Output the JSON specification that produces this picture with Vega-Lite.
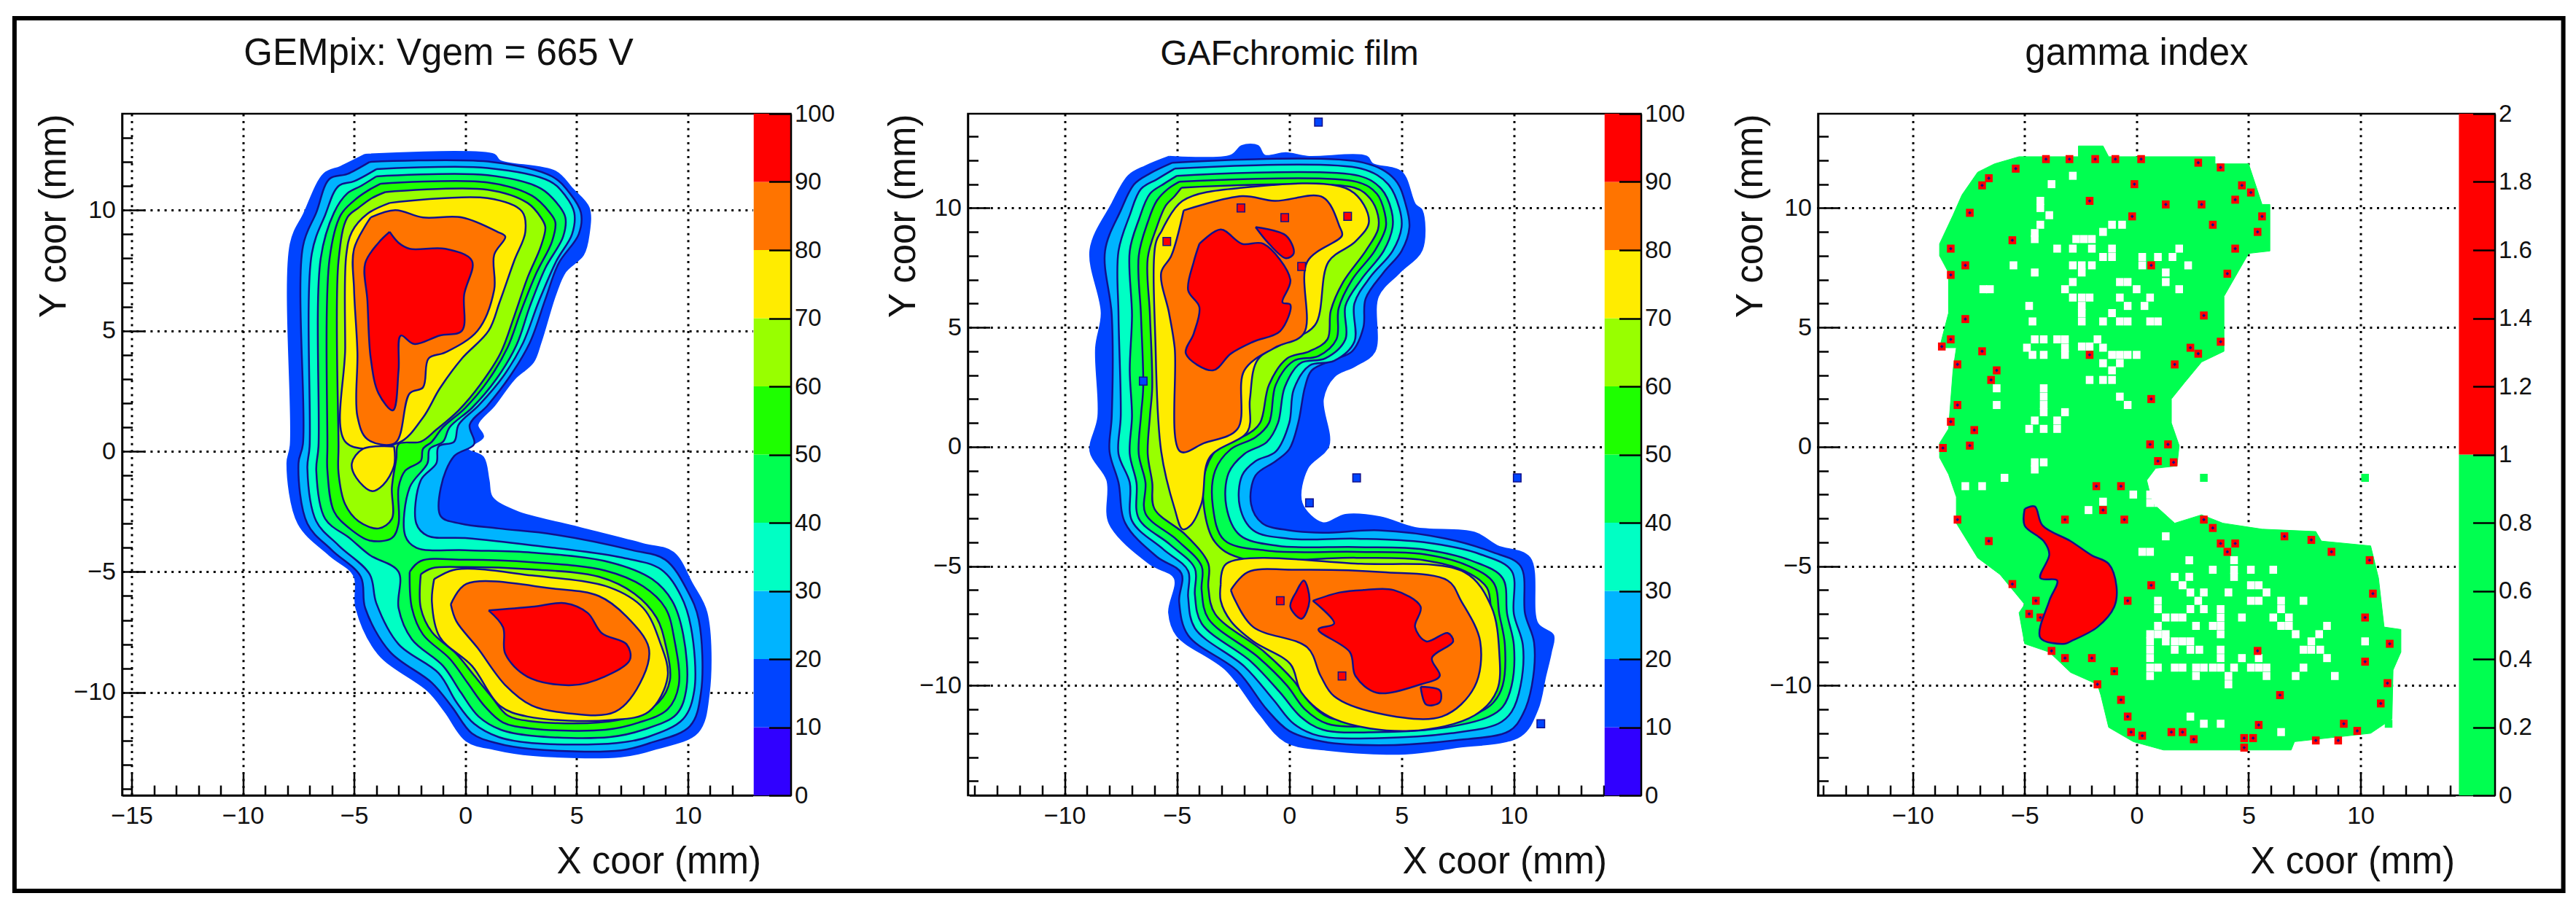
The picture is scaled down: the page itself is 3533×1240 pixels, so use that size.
{"$schema":"https://vega.github.io/schema/vega-lite/v6.json","background":"white","padding":{"left":15.5,"top":20,"right":16,"bottom":17},"bounds":"flush","spacing":243,
"config":{"font":"Liberation Sans","view":{"stroke":"black","strokeWidth":2.5},"axis":{"labelFont":"Liberation Sans","titleFont":"Liberation Sans","labelColor":"#111","titleColor":"#111","titleFontWeight":"normal","labelFontSize":34,"titleFontSize":51,"domainColor":"black","domainWidth":2.5,"tickColor":"black","tickWidth":2.5,"gridColor":"black","gridOpacity":1,"gridWidth":3,"gridDash":[3,6.6],"labelBound":false,"labelFlush":false,"labelOverlap":false}},
"datasets":{
"frame":[{"x":-20.27,"x2":94.34,"y":17.96,"y2":-18.23}],
"bar":[{"b":0,"b2":10},{"b":10,"b2":20},{"b":20,"b2":30},{"b":30,"b2":40},{"b":40,"b2":50},{"b":50,"b2":60},{"b":60,"b2":70},{"b":70,"b2":80},{"b":80,"b2":90},{"b":90,"b2":100}],
"bar3":[{"b":0,"b2":1},{"b":1,"b2":2}],
"one":[{"x":0,"y":0}],
"p1":[
{"k":10,"x":-4.5,"y":12.3},{"k":10,"x":1.3,"y":12.3},{"k":10,"x":1.55,"y":12.05},{"k":10,"x":4.05,"y":11.6},{"k":10,"x":4.8,"y":10.9},{"k":10,"x":5.55,"y":10.1},{"k":10,"x":5.55,"y":9},{"k":10,"x":5.3,"y":8.15},{"k":10,"x":4.5,"y":7.45},{"k":10,"x":4.05,"y":6.5},{"k":10,"x":3.4,"y":4.55},{"k":10,"x":3.05,"y":3.7},{"k":10,"x":2.2,"y":3},{"k":10,"x":1.3,"y":1.9},{"k":10,"x":0.55,"y":1.1},{"k":10,"x":0.8,"y":0.6},{"k":10,"x":0.1,"y":0.1},{"k":10,"x":0.8,"y":-0.25},{"k":10,"x":1.05,"y":-1.2},{"k":10,"x":1.2,"y":-1.9},{"k":10,"x":2.3,"y":-2.5},{"k":10,"x":4.8,"y":-3.1},{"k":10,"x":8,"y":-3.85},{"k":10,"x":9.35,"y":-4.2},{"k":10,"x":10.2,"y":-5.5},{"k":10,"x":10.85,"y":-6.7},{"k":10,"x":10.95,"y":-10.05},{"k":10,"x":10.45,"y":-11.65},{"k":10,"x":8.5,"y":-12.35},{"k":10,"x":7,"y":-12.65},{"k":10,"x":3.05,"y":-12.6},{"k":10,"x":1.3,"y":-12.35},{"k":10,"x":0.05,"y":-12},{"k":10,"x":-0.9,"y":-10.8},{"k":10,"x":-1.65,"y":-9.95},{"k":10,"x":-3.9,"y":-8.4},{"k":10,"x":-4.9,"y":-6.5},{"k":10,"x":-5,"y":-5.15},{"k":10,"x":-6.1,"y":-4.3},{"k":10,"x":-7.5,"y":-3},{"k":10,"x":-8,"y":-0.5},{"k":10,"x":-7.85,"y":0.25},{"k":10,"x":-7.85,"y":8.6},{"k":10,"x":-7.25,"y":9.85},{"k":10,"x":-6.35,"y":11.5},{"k":10,"x":-5.6,"y":11.8},{"k":10,"x":-4.5,"y":12.3},
{"k":20,"x":-4.3,"y":12},{"k":20,"x":1.2,"y":12},{"k":20,"x":3.9,"y":11.4},{"k":20,"x":4.7,"y":10.7},{"k":20,"x":5.2,"y":9.9},{"k":20,"x":5.1,"y":9},{"k":20,"x":4.2,"y":7.8},{"k":20,"x":3.6,"y":6.3},{"k":20,"x":2.9,"y":4.5},{"k":20,"x":2,"y":3.1},{"k":20,"x":1,"y":1.9},{"k":20,"x":0.2,"y":1.1},{"k":20,"x":0.4,"y":0.3},{"k":20,"x":-0.5,"y":-0.2},{"k":20,"x":-1.1,"y":-1.5},{"k":20,"x":-1.1,"y":-2.7},{"k":20,"x":-0.2,"y":-3},{"k":20,"x":1.5,"y":-3.2},{"k":20,"x":4,"y":-3.45},{"k":20,"x":7.5,"y":-4.1},{"k":20,"x":9,"y":-4.5},{"k":20,"x":10,"y":-5.8},{"k":20,"x":10.5,"y":-7},{"k":20,"x":10.6,"y":-10},{"k":20,"x":10.1,"y":-11.4},{"k":20,"x":8.3,"y":-12.1},{"k":20,"x":7,"y":-12.4},{"k":20,"x":3,"y":-12.35},{"k":20,"x":1.4,"y":-12.1},{"k":20,"x":0.3,"y":-11.7},{"k":20,"x":-0.6,"y":-10.6},{"k":20,"x":-1.5,"y":-9.6},{"k":20,"x":-3.4,"y":-8.3},{"k":20,"x":-4.5,"y":-6.5},{"k":20,"x":-4.7,"y":-5.2},{"k":20,"x":-6,"y":-4.1},{"k":20,"x":-7.1,"y":-3},{"k":20,"x":-7.5,"y":-0.5},{"k":20,"x":-7.3,"y":0.3},{"k":20,"x":-7.3,"y":8.5},{"k":20,"x":-6.7,"y":9.9},{"k":20,"x":-6.1,"y":11.3},{"k":20,"x":-5.3,"y":11.5},{"k":20,"x":-4.3,"y":12},
{"k":30,"x":-4,"y":11.7},{"k":30,"x":1,"y":11.75},{"k":30,"x":3.8,"y":11.2},{"k":30,"x":4.5,"y":10.6},{"k":30,"x":4.9,"y":9.9},{"k":30,"x":4.8,"y":9},{"k":30,"x":4.1,"y":7.9},{"k":30,"x":3.3,"y":6.2},{"k":30,"x":2.6,"y":4.5},{"k":30,"x":1.7,"y":3.1},{"k":30,"x":0.6,"y":1.9},{"k":30,"x":-0.3,"y":1.1},{"k":30,"x":-0.5,"y":0.4},{"k":30,"x":-1.2,"y":0.2},{"k":30,"x":-1.3,"y":-0.5},{"k":30,"x":-2,"y":-1.2},{"k":30,"x":-2.2,"y":-3},{"k":30,"x":-1.7,"y":-3.5},{"k":30,"x":0,"y":-3.6},{"k":30,"x":3,"y":-3.9},{"k":30,"x":7,"y":-4.4},{"k":30,"x":8.8,"y":-4.9},{"k":30,"x":9.7,"y":-6},{"k":30,"x":10.15,"y":-7.3},{"k":30,"x":10.3,"y":-9.9},{"k":30,"x":9.8,"y":-11.1},{"k":30,"x":8.2,"y":-11.85},{"k":30,"x":6.8,"y":-12.1},{"k":30,"x":3,"y":-12.1},{"k":30,"x":1.5,"y":-11.85},{"k":30,"x":0.4,"y":-11.3},{"k":30,"x":-0.4,"y":-10.4},{"k":30,"x":-1.2,"y":-9.2},{"k":30,"x":-3,"y":-8},{"k":30,"x":-4,"y":-6.3},{"k":30,"x":-4.3,"y":-5.1},{"k":30,"x":-5.7,"y":-3.9},{"k":30,"x":-6.7,"y":-2.9},{"k":30,"x":-7.1,"y":-0.7},{"k":30,"x":-7,"y":0.2},{"k":30,"x":-6.9,"y":8.2},{"k":30,"x":-6.3,"y":9.8},{"k":30,"x":-5.7,"y":11},{"k":30,"x":-5,"y":11.2},{"k":30,"x":-4,"y":11.7},
{"k":40,"x":-4,"y":11.4},{"k":40,"x":1,"y":11.45},{"k":40,"x":3.4,"y":10.9},{"k":40,"x":4.2,"y":10.2},{"k":40,"x":4.5,"y":9.7},{"k":40,"x":4.4,"y":8.9},{"k":40,"x":3.6,"y":7.6},{"k":40,"x":2.9,"y":6},{"k":40,"x":2.3,"y":4.4},{"k":40,"x":1.4,"y":3},{"k":40,"x":0.3,"y":1.8},{"k":40,"x":-0.7,"y":1},{"k":40,"x":-1,"y":0.4},{"k":40,"x":-1.6,"y":0.1},{"k":40,"x":-1.7,"y":-0.5},{"k":40,"x":-2.5,"y":-1.5},{"k":40,"x":-2.7,"y":-3.5},{"k":40,"x":-2.2,"y":-4},{"k":40,"x":0,"y":-4.1},{"k":40,"x":3,"y":-4.2},{"k":40,"x":6.5,"y":-4.6},{"k":40,"x":8.4,"y":-5.3},{"k":40,"x":9.3,"y":-6.2},{"k":40,"x":9.8,"y":-7.6},{"k":40,"x":9.95,"y":-9.8},{"k":40,"x":9.5,"y":-10.9},{"k":40,"x":8,"y":-11.55},{"k":40,"x":6.5,"y":-11.85},{"k":40,"x":3,"y":-11.8},{"k":40,"x":1.6,"y":-11.55},{"k":40,"x":0.6,"y":-11},{"k":40,"x":-0.2,"y":-10},{"k":40,"x":-1,"y":-8.9},{"k":40,"x":-2.4,"y":-7.8},{"k":40,"x":-3,"y":-6.5},{"k":40,"x":-3,"y":-5},{"k":40,"x":-4.3,"y":-4.3},{"k":40,"x":-5.2,"y":-3.6},{"k":40,"x":-6.3,"y":-2.8},{"k":40,"x":-6.7,"y":-0.8},{"k":40,"x":-6.6,"y":0.2},{"k":40,"x":-6.5,"y":8},{"k":40,"x":-5.9,"y":9.9},{"k":40,"x":-5.3,"y":10.7},{"k":40,"x":-4.7,"y":11},{"k":40,"x":-4,"y":11.4},
{"k":50,"x":-3.8,"y":11.1},{"k":50,"x":1,"y":11.15},{"k":50,"x":3,"y":10.6},{"k":50,"x":3.8,"y":9.9},{"k":50,"x":4.05,"y":9.5},{"k":50,"x":3.9,"y":8.7},{"k":50,"x":3.2,"y":7.4},{"k":50,"x":2.5,"y":5.8},{"k":50,"x":1.9,"y":4.3},{"k":50,"x":1,"y":2.9},{"k":50,"x":0,"y":1.8},{"k":50,"x":-1,"y":1},{"k":50,"x":-1.5,"y":0.4},{"k":50,"x":-1.9,"y":0.1},{"k":50,"x":-2,"y":-0.4},{"k":50,"x":-2.7,"y":-0.8},{"k":50,"x":-3,"y":-1.5},{"k":50,"x":-3,"y":-3},{"k":50,"x":-3.3,"y":-3.6},{"k":50,"x":-4.3,"y":-3.7},{"k":50,"x":-5.2,"y":-3.2},{"k":50,"x":-5.9,"y":-2.5},{"k":50,"x":-6.2,"y":-0.8},{"k":50,"x":-6.2,"y":0.2},{"k":50,"x":-6.1,"y":8},{"k":50,"x":-5.6,"y":9.8},{"k":50,"x":-5,"y":10.4},{"k":50,"x":-4.4,"y":10.8},{"k":50,"x":-3.8,"y":11.1},
{"k":51,"x":-2.5,"y":-5},{"k":51,"x":-2,"y":-4.55},{"k":51,"x":0,"y":-4.5},{"k":51,"x":3,"y":-4.6},{"k":51,"x":6.3,"y":-4.95},{"k":51,"x":8,"y":-5.6},{"k":51,"x":9,"y":-6.5},{"k":51,"x":9.4,"y":-7.8},{"k":51,"x":9.6,"y":-9.7},{"k":51,"x":9.1,"y":-10.7},{"k":51,"x":7.8,"y":-11.25},{"k":51,"x":6.3,"y":-11.55},{"k":51,"x":3,"y":-11.5},{"k":51,"x":1.7,"y":-11.25},{"k":51,"x":0.9,"y":-10.6},{"k":51,"x":0.1,"y":-9.6},{"k":51,"x":-0.7,"y":-8.6},{"k":51,"x":-1.9,"y":-7.6},{"k":51,"x":-2.4,"y":-6.5},{"k":51,"x":-2.5,"y":-5},
{"k":60,"x":-3.6,"y":10.75},{"k":60,"x":1,"y":10.85},{"k":60,"x":2.8,"y":10.3},{"k":60,"x":3.4,"y":9.7},{"k":60,"x":3.6,"y":9.3},{"k":60,"x":3.4,"y":8.5},{"k":60,"x":2.8,"y":7.2},{"k":60,"x":2.2,"y":5.6},{"k":60,"x":1.6,"y":4.1},{"k":60,"x":0.7,"y":2.8},{"k":60,"x":-0.3,"y":1.7},{"k":60,"x":-1.3,"y":0.9},{"k":60,"x":-2,"y":0.4},{"k":60,"x":-3,"y":0.3},{"k":60,"x":-3.1,"y":-0.3},{"k":60,"x":-3.3,"y":-1.5},{"k":60,"x":-3.3,"y":-2.8},{"k":60,"x":-3.9,"y":-3.2},{"k":60,"x":-4.8,"y":-2.9},{"k":60,"x":-5.4,"y":-2.2},{"k":60,"x":-5.7,"y":-0.9},{"k":60,"x":-5.7,"y":0.2},{"k":60,"x":-5.7,"y":7.9},{"k":60,"x":-5.3,"y":9.7},{"k":60,"x":-4.8,"y":10.1},{"k":60,"x":-4.2,"y":10.5},{"k":60,"x":-3.6,"y":10.75},
{"k":61,"x":-2,"y":-5.1},{"k":61,"x":-1.5,"y":-4.85},{"k":61,"x":0,"y":-4.8},{"k":61,"x":3,"y":-4.9},{"k":61,"x":6,"y":-5.2},{"k":61,"x":7.6,"y":-5.9},{"k":61,"x":8.6,"y":-6.9},{"k":61,"x":9,"y":-8},{"k":61,"x":9.2,"y":-9.5},{"k":61,"x":8.7,"y":-10.4},{"k":61,"x":7.5,"y":-11},{"k":61,"x":6,"y":-11.25},{"k":61,"x":3,"y":-11.2},{"k":61,"x":1.9,"y":-10.95},{"k":61,"x":1.2,"y":-10.2},{"k":61,"x":0.4,"y":-9.3},{"k":61,"x":-0.4,"y":-8.4},{"k":61,"x":-1.5,"y":-7.5},{"k":61,"x":-2,"y":-6.5},{"k":61,"x":-2,"y":-5.1},
{"k":70,"x":-3.4,"y":10.3},{"k":70,"x":1,"y":10.5},{"k":70,"x":2.55,"y":9.95},{"k":70,"x":2.7,"y":9.1},{"k":70,"x":2.2,"y":7.9},{"k":70,"x":1.55,"y":6.2},{"k":70,"x":1.05,"y":5},{"k":70,"x":-0.15,"y":3.85},{"k":70,"x":-1.15,"y":2.6},{"k":70,"x":-1.9,"y":1.4},{"k":70,"x":-3,"y":0.35},{"k":70,"x":-5.35,"y":0.35},{"k":70,"x":-5.4,"y":4.3},{"k":70,"x":-5.35,"y":8.15},{"k":70,"x":-5.1,"y":9.1},{"k":70,"x":-4.4,"y":9.85},{"k":70,"x":-3.4,"y":10.3},
{"k":71,"x":-3.2,"y":0.2},{"k":71,"x":-3.2,"y":-0.6},{"k":71,"x":-3.7,"y":-1.4},{"k":71,"x":-4.2,"y":-1.65},{"k":71,"x":-4.9,"y":-1.1},{"k":71,"x":-5.1,"y":-0.5},{"k":71,"x":-4.6,"y":0.1},{"k":71,"x":-3.2,"y":0.2},
{"k":72,"x":-1.4,"y":-5.3},{"k":72,"x":-0.4,"y":-4.9},{"k":72,"x":3,"y":-5.15},{"k":72,"x":6.5,"y":-5.65},{"k":72,"x":8,"y":-6.5},{"k":72,"x":8.75,"y":-7.9},{"k":72,"x":9.1,"y":-9.35},{"k":72,"x":8.25,"y":-10.8},{"k":72,"x":6.5,"y":-11.15},{"k":72,"x":2.8,"y":-11},{"k":72,"x":1.55,"y":-10.55},{"k":72,"x":0.3,"y":-8.9},{"k":72,"x":-1.15,"y":-7.7},{"k":72,"x":-1.5,"y":-6.25},{"k":72,"x":-1.4,"y":-5.3},
{"k":80,"x":-4.25,"y":9.7},{"k":80,"x":-3.15,"y":10},{"k":80,"x":-1.9,"y":9.7},{"k":80,"x":-0.15,"y":9.7},{"k":80,"x":1.45,"y":9.1},{"k":80,"x":1.8,"y":8.9},{"k":80,"x":1.3,"y":8.15},{"k":80,"x":1.3,"y":6.7},{"k":80,"x":0.55,"y":5},{"k":80,"x":-0.9,"y":4.1},{"k":80,"x":-1.65,"y":3.85},{"k":80,"x":-1.9,"y":2.65},{"k":80,"x":-2.5,"y":2.4},{"k":80,"x":-3.15,"y":0.35},{"k":80,"x":-4.4,"y":0.5},{"k":80,"x":-4.85,"y":1.45},{"k":80,"x":-4.85,"y":4.1},{"k":80,"x":-5,"y":6.7},{"k":80,"x":-5,"y":8.4},{"k":80,"x":-4.25,"y":9.7},
{"k":81,"x":-0.65,"y":-6.35},{"k":81,"x":0.05,"y":-5.5},{"k":81,"x":4,"y":-5.7},{"k":81,"x":6,"y":-6},{"k":81,"x":7.25,"y":-6.85},{"k":81,"x":8.25,"y":-8.15},{"k":81,"x":8,"y":-9.35},{"k":81,"x":6.75,"y":-10.8},{"k":81,"x":4.5,"y":-10.85},{"k":81,"x":3,"y":-10.55},{"k":81,"x":1.8,"y":-9.7},{"k":81,"x":0.55,"y":-8.15},{"k":81,"x":-0.4,"y":-7.05},{"k":81,"x":-0.65,"y":-6.35},
{"k":90,"x":-3.4,"y":9.1},{"k":90,"x":-3,"y":8.65},{"k":90,"x":-2.5,"y":8.4},{"k":90,"x":-0.9,"y":8.4},{"k":90,"x":0.3,"y":7.9},{"k":90,"x":-0.05,"y":6.5},{"k":90,"x":-0.15,"y":5},{"k":90,"x":-1.15,"y":4.8},{"k":90,"x":-2.3,"y":4.45},{"k":90,"x":-2.9,"y":4.8},{"k":90,"x":-3,"y":3.35},{"k":90,"x":-3.25,"y":1.7},{"k":90,"x":-3.9,"y":2.4},{"k":90,"x":-4.25,"y":3.85},{"k":90,"x":-4.4,"y":6.25},{"k":90,"x":-4.5,"y":7.8},{"k":90,"x":-3.9,"y":8.65},{"k":90,"x":-3.4,"y":9.1},
{"k":91,"x":1.05,"y":-6.6},{"k":91,"x":3,"y":-6.45},{"k":91,"x":4.5,"y":-6.3},{"k":91,"x":5.5,"y":-6.7},{"k":91,"x":6.15,"y":-7.55},{"k":91,"x":7.25,"y":-8},{"k":91,"x":7.4,"y":-8.65},{"k":91,"x":6.25,"y":-9.35},{"k":91,"x":4.8,"y":-9.7},{"k":91,"x":2.8,"y":-9.35},{"k":91,"x":1.8,"y":-8.4},{"k":91,"x":1.7,"y":-7.3},{"k":91,"x":1.05,"y":-6.6}
],
"p2":[
{"k":10,"x":-5.35,"y":12.15},{"k":10,"x":-2.6,"y":12.2},{"k":10,"x":-2.1,"y":12.6},{"k":10,"x":-1.4,"y":12.6},{"k":10,"x":-1.1,"y":12.2},{"k":10,"x":-0.15,"y":12.3},{"k":10,"x":0.8,"y":12.15},{"k":10,"x":3.45,"y":12.15},{"k":10,"x":3.7,"y":11.85},{"k":10,"x":5,"y":11.5},{"k":10,"x":5.6,"y":10.15},{"k":10,"x":5.9,"y":9.9},{"k":10,"x":5.9,"y":8.25},{"k":10,"x":4.9,"y":7.3},{"k":10,"x":3.95,"y":6.3},{"k":10,"x":3.8,"y":4},{"k":10,"x":2.95,"y":3.4},{"k":10,"x":2,"y":2.95},{"k":10,"x":1.5,"y":2},{"k":10,"x":1.75,"y":0.05},{"k":10,"x":0.8,"y":-0.9},{"k":10,"x":0.55,"y":-2.35},{"k":10,"x":1.5,"y":-3.2},{"k":10,"x":2.5,"y":-2.85},{"k":10,"x":4.05,"y":-2.95},{"k":10,"x":5.6,"y":-3.4},{"k":10,"x":8.25,"y":-3.6},{"k":10,"x":9.25,"y":-4.15},{"k":10,"x":10.7,"y":-4.65},{"k":10,"x":11.05,"y":-7.4},{"k":10,"x":11.75,"y":-7.9},{"k":10,"x":11.65,"y":-8.6},{"k":10,"x":11.4,"y":-9.6},{"k":10,"x":11.05,"y":-11},{"k":10,"x":10.3,"y":-12.1},{"k":10,"x":7.3,"y":-12.6},{"k":10,"x":5.15,"y":-12.85},{"k":10,"x":1.75,"y":-12.7},{"k":10,"x":-0.15,"y":-12.35},{"k":10,"x":-1.35,"y":-11.15},{"k":10,"x":-2.8,"y":-9.35},{"k":10,"x":-5,"y":-7.9},{"k":10,"x":-5.35,"y":-6.95},{"k":10,"x":-5.1,"y":-5.5},{"k":10,"x":-6.2,"y":-4.9},{"k":10,"x":-8,"y":-3.2},{"k":10,"x":-8.1,"y":-1.4},{"k":10,"x":-8.85,"y":-0.2},{"k":10,"x":-8.5,"y":1.25},{"k":10,"x":-8.6,"y":4.15},{"k":10,"x":-8.35,"y":5.6},{"k":10,"x":-8.85,"y":8.25},{"k":10,"x":-7.9,"y":10.15},{"k":10,"x":-7.15,"y":11.35},{"k":10,"x":-6.4,"y":11.75},{"k":10,"x":-5.35,"y":12.15},
{"k":20,"x":-5.2,"y":11.9},{"k":20,"x":3.3,"y":11.9},{"k":20,"x":4.7,"y":11.2},{"k":20,"x":5.2,"y":10.1},{"k":20,"x":5.35,"y":9.2},{"k":20,"x":5,"y":8.2},{"k":20,"x":4.2,"y":7.3},{"k":20,"x":3.4,"y":6.2},{"k":20,"x":3.3,"y":5},{"k":20,"x":2.8,"y":4},{"k":20,"x":2,"y":3.65},{"k":20,"x":1,"y":3.2},{"k":20,"x":0.7,"y":2.5},{"k":20,"x":0.4,"y":1},{"k":20,"x":0,"y":-0.1},{"k":20,"x":-0.6,"y":-0.6},{"k":20,"x":-1.5,"y":-1.2},{"k":20,"x":-1.7,"y":-2.4},{"k":20,"x":-1.2,"y":-3.2},{"k":20,"x":0,"y":-3.5},{"k":20,"x":1.5,"y":-3.6},{"k":20,"x":4,"y":-3.5},{"k":20,"x":7,"y":-3.85},{"k":20,"x":9,"y":-4.4},{"k":20,"x":10.3,"y":-5},{"k":20,"x":10.5,"y":-7},{"k":20,"x":10.9,"y":-8.2},{"k":20,"x":10.8,"y":-10},{"k":20,"x":10.4,"y":-11.2},{"k":20,"x":9.8,"y":-11.9},{"k":20,"x":7.3,"y":-12.3},{"k":20,"x":4,"y":-12.5},{"k":20,"x":1.5,"y":-12.35},{"k":20,"x":0,"y":-11.9},{"k":20,"x":-1,"y":-11},{"k":20,"x":-2.3,"y":-9.4},{"k":20,"x":-4.5,"y":-7.9},{"k":20,"x":-4.9,"y":-6.5},{"k":20,"x":-4.8,"y":-5.3},{"k":20,"x":-5.9,"y":-4.6},{"k":20,"x":-7.3,"y":-3.2},{"k":20,"x":-7.6,"y":-1.5},{"k":20,"x":-8,"y":-0.2},{"k":20,"x":-7.9,"y":1.3},{"k":20,"x":-7.9,"y":5.5},{"k":20,"x":-8.2,"y":8.2},{"k":20,"x":-7.5,"y":9.9},{"k":20,"x":-6.9,"y":11},{"k":20,"x":-6.2,"y":11.45},{"k":20,"x":-5.2,"y":11.9},
{"k":30,"x":-5.1,"y":11.65},{"k":30,"x":3.2,"y":11.65},{"k":30,"x":4.4,"y":11},{"k":30,"x":4.9,"y":10},{"k":30,"x":5,"y":9.2},{"k":30,"x":4.6,"y":8.2},{"k":30,"x":3.6,"y":7.1},{"k":30,"x":2.9,"y":6},{"k":30,"x":2.9,"y":4.4},{"k":30,"x":2,"y":3.6},{"k":30,"x":0.9,"y":3.4},{"k":30,"x":0.2,"y":2.4},{"k":30,"x":0,"y":1},{"k":30,"x":-0.6,"y":-0.2},{"k":30,"x":-1.5,"y":-0.6},{"k":30,"x":-2.1,"y":-1.2},{"k":30,"x":-2.2,"y":-2.5},{"k":30,"x":-1.6,"y":-3.5},{"k":30,"x":0,"y":-3.85},{"k":30,"x":3,"y":-3.85},{"k":30,"x":6,"y":-4},{"k":30,"x":8.5,"y":-4.5},{"k":30,"x":9.9,"y":-5.2},{"k":30,"x":10,"y":-7},{"k":30,"x":10.4,"y":-8.3},{"k":30,"x":10.3,"y":-10},{"k":30,"x":9.9,"y":-11.1},{"k":30,"x":9.3,"y":-11.6},{"k":30,"x":7.2,"y":-12},{"k":30,"x":4,"y":-12.2},{"k":30,"x":1.3,"y":-12.1},{"k":30,"x":0.2,"y":-11.6},{"k":30,"x":-0.7,"y":-10.6},{"k":30,"x":-2,"y":-9.2},{"k":30,"x":-4.2,"y":-7.6},{"k":30,"x":-4.5,"y":-6.3},{"k":30,"x":-4.5,"y":-5.2},{"k":30,"x":-5.6,"y":-4.3},{"k":30,"x":-7,"y":-3.1},{"k":30,"x":-7.1,"y":-1.5},{"k":30,"x":-7.6,"y":-0.3},{"k":30,"x":-7.5,"y":1.3},{"k":30,"x":-7.6,"y":5.5},{"k":30,"x":-7.6,"y":8.2},{"k":30,"x":-7.1,"y":9.7},{"k":30,"x":-6.6,"y":10.8},{"k":30,"x":-5.9,"y":11.2},{"k":30,"x":-5.1,"y":11.65},
{"k":40,"x":-5,"y":11.35},{"k":40,"x":3.1,"y":11.35},{"k":40,"x":4.1,"y":10.8},{"k":40,"x":4.55,"y":9.9},{"k":40,"x":4.6,"y":9.2},{"k":40,"x":4.2,"y":8.2},{"k":40,"x":3.2,"y":7},{"k":40,"x":2.5,"y":5.9},{"k":40,"x":2.5,"y":4.5},{"k":40,"x":1.6,"y":3.7},{"k":40,"x":0.5,"y":3.5},{"k":40,"x":-0.2,"y":2.5},{"k":40,"x":-0.5,"y":1},{"k":40,"x":-1,"y":0.2},{"k":40,"x":-2,"y":-0.3},{"k":40,"x":-2.7,"y":-1.1},{"k":40,"x":-2.8,"y":-2.5},{"k":40,"x":-2.2,"y":-3.7},{"k":40,"x":-0.5,"y":-4.15},{"k":40,"x":3,"y":-4.2},{"k":40,"x":6,"y":-4.3},{"k":40,"x":8.2,"y":-4.8},{"k":40,"x":9.5,"y":-5.5},{"k":40,"x":9.7,"y":-7},{"k":40,"x":10,"y":-8.3},{"k":40,"x":9.9,"y":-10},{"k":40,"x":9.5,"y":-10.9},{"k":40,"x":8.9,"y":-11.3},{"k":40,"x":7,"y":-11.75},{"k":40,"x":4,"y":-11.95},{"k":40,"x":1.5,"y":-11.85},{"k":40,"x":0.5,"y":-11.3},{"k":40,"x":-0.4,"y":-10.3},{"k":40,"x":-1.7,"y":-9},{"k":40,"x":-3.9,"y":-7.4},{"k":40,"x":-4.2,"y":-6.2},{"k":40,"x":-4.2,"y":-5.1},{"k":40,"x":-5.3,"y":-4.1},{"k":40,"x":-6.7,"y":-3},{"k":40,"x":-6.8,"y":-1.5},{"k":40,"x":-7.1,"y":-0.3},{"k":40,"x":-7,"y":1.3},{"k":40,"x":-7.1,"y":3.2},{"k":40,"x":-7,"y":5.5},{"k":40,"x":-7.1,"y":8.2},{"k":40,"x":-6.7,"y":9.5},{"k":40,"x":-6.2,"y":10.6},{"k":40,"x":-5.6,"y":11},{"k":40,"x":-5,"y":11.35},
{"k":50,"x":-4.9,"y":11.1},{"k":50,"x":3,"y":11.1},{"k":50,"x":3.9,"y":10.6},{"k":50,"x":4.25,"y":9.8},{"k":50,"x":4.3,"y":9.2},{"k":50,"x":3.8,"y":8.2},{"k":50,"x":2.8,"y":7},{"k":50,"x":2.2,"y":5.8},{"k":50,"x":2.1,"y":4.5},{"k":50,"x":1.3,"y":3.8},{"k":50,"x":0.2,"y":3.6},{"k":50,"x":-0.6,"y":2.6},{"k":50,"x":-0.9,"y":1},{"k":50,"x":-1.5,"y":0.4},{"k":50,"x":-2.6,"y":-0.1},{"k":50,"x":-3.3,"y":-1},{"k":50,"x":-3.4,"y":-2.5},{"k":50,"x":-2.9,"y":-3.9},{"k":50,"x":-1,"y":-4.35},{"k":50,"x":3,"y":-4.4},{"k":50,"x":6,"y":-4.5},{"k":50,"x":8,"y":-5},{"k":50,"x":9.1,"y":-5.7},{"k":50,"x":9.35,"y":-7},{"k":50,"x":9.6,"y":-8.3},{"k":50,"x":9.5,"y":-10},{"k":50,"x":9.1,"y":-10.7},{"k":50,"x":8.5,"y":-11.1},{"k":50,"x":6.8,"y":-11.5},{"k":50,"x":4,"y":-11.7},{"k":50,"x":1.7,"y":-11.6},{"k":50,"x":0.7,"y":-11},{"k":50,"x":-0.1,"y":-10},{"k":50,"x":-1.4,"y":-8.8},{"k":50,"x":-3.6,"y":-7.2},{"k":50,"x":-3.9,"y":-6},{"k":50,"x":-3.9,"y":-5},{"k":50,"x":-5,"y":-3.9},{"k":50,"x":-6.4,"y":-2.8},{"k":50,"x":-6.4,"y":-1.5},{"k":50,"x":-6.7,"y":-0.3},{"k":50,"x":-6.6,"y":1.3},{"k":50,"x":-6.5,"y":2.5},{"k":50,"x":-6.6,"y":5.5},{"k":50,"x":-6.7,"y":8},{"k":50,"x":-6.3,"y":9.4},{"k":50,"x":-5.9,"y":10.3},{"k":50,"x":-5.4,"y":10.8},{"k":50,"x":-4.9,"y":11.1},
{"k":60,"x":-4.8,"y":10.85},{"k":60,"x":2.9,"y":10.85},{"k":60,"x":3.6,"y":10.4},{"k":60,"x":3.95,"y":9.7},{"k":60,"x":3.95,"y":9.1},{"k":60,"x":3.4,"y":8.2},{"k":60,"x":2.4,"y":6.9},{"k":60,"x":1.85,"y":5.7},{"k":60,"x":1.7,"y":4.5},{"k":60,"x":0.9,"y":4},{"k":60,"x":-0.1,"y":3.7},{"k":60,"x":-0.9,"y":2.6},{"k":60,"x":-1.3,"y":1},{"k":60,"x":-1.9,"y":0.5},{"k":60,"x":-3,"y":0.1},{"k":60,"x":-3.7,"y":-0.9},{"k":60,"x":-3.8,"y":-2.5},{"k":60,"x":-3.3,"y":-4},{"k":60,"x":-2.2,"y":-4.65},{"k":60,"x":3,"y":-4.65},{"k":60,"x":6,"y":-4.75},{"k":60,"x":7.8,"y":-5.2},{"k":60,"x":8.8,"y":-5.9},{"k":60,"x":9,"y":-7},{"k":60,"x":9.2,"y":-8.3},{"k":60,"x":9.15,"y":-10},{"k":60,"x":8.8,"y":-10.5},{"k":60,"x":8.2,"y":-10.9},{"k":60,"x":6.6,"y":-11.3},{"k":60,"x":4,"y":-11.45},{"k":60,"x":1.8,"y":-11.35},{"k":60,"x":0.9,"y":-10.7},{"k":60,"x":0.2,"y":-9.8},{"k":60,"x":-1.1,"y":-8.6},{"k":60,"x":-3.3,"y":-7},{"k":60,"x":-3.6,"y":-5.9},{"k":60,"x":-3.6,"y":-4.9},{"k":60,"x":-4.6,"y":-3.7},{"k":60,"x":-6,"y":-2.6},{"k":60,"x":-6.1,"y":-1.5},{"k":60,"x":-6.3,"y":-0.3},{"k":60,"x":-6.2,"y":1.3},{"k":60,"x":-6.1,"y":2.5},{"k":60,"x":-6.2,"y":5.5},{"k":60,"x":-6.3,"y":7.9},{"k":60,"x":-5.9,"y":9.2},{"k":60,"x":-5.5,"y":10.1},{"k":60,"x":-5.1,"y":10.5},{"k":60,"x":-4.8,"y":10.85},
{"k":70,"x":-5.7,"y":9},{"k":70,"x":-4.75,"y":10.3},{"k":70,"x":-2.1,"y":10.85},{"k":70,"x":2.7,"y":10.75},{"k":70,"x":3.55,"y":9.45},{"k":70,"x":2.95,"y":8.6},{"k":70,"x":1.75,"y":7.75},{"k":70,"x":1.15,"y":5.1},{"k":70,"x":-0.1,"y":4.4},{"k":70,"x":-1.4,"y":3.65},{"k":70,"x":-1.75,"y":2},{"k":70,"x":-1.85,"y":0.65},{"k":70,"x":-3.55,"y":-0.45},{"k":70,"x":-3.9,"y":-2.35},{"k":70,"x":-4.4,"y":-3.3},{"k":70,"x":-4.75,"y":-3.45},{"k":70,"x":-5.1,"y":-2.6},{"k":70,"x":-5.7,"y":-0.2},{"k":70,"x":-5.95,"y":4.15},{"k":70,"x":-5.95,"y":8.5},{"k":70,"x":-5.7,"y":9},
{"k":71,"x":-3.05,"y":-5.75},{"k":71,"x":-2.8,"y":-4.9},{"k":71,"x":3.2,"y":-4.9},{"k":71,"x":7.8,"y":-5.25},{"k":71,"x":9,"y":-6.7},{"k":71,"x":9.35,"y":-8.6},{"k":71,"x":9.25,"y":-10.2},{"k":71,"x":8.25,"y":-11.25},{"k":71,"x":5.35,"y":-11.9},{"k":71,"x":2,"y":-11.4},{"k":71,"x":0.55,"y":-10.3},{"k":71,"x":0.05,"y":-9.1},{"k":71,"x":-1.6,"y":-8.15},{"k":71,"x":-2.6,"y":-7.3},{"k":71,"x":-3.05,"y":-6.45},{"k":71,"x":-3.05,"y":-5.75},
{"k":80,"x":-4.7,"y":9.9},{"k":80,"x":-2.1,"y":10.5},{"k":80,"x":-0.65,"y":10.3},{"k":80,"x":1.5,"y":10.45},{"k":80,"x":2.25,"y":9.2},{"k":80,"x":2.35,"y":8.85},{"k":80,"x":0.8,"y":7.75},{"k":80,"x":0.65,"y":4.75},{"k":80,"x":-0.65,"y":4.15},{"k":80,"x":-2,"y":3.2},{"k":80,"x":-2.3,"y":0.75},{"k":80,"x":-3.8,"y":0.15},{"k":80,"x":-4.85,"y":-0.2},{"k":80,"x":-5.1,"y":4.15},{"k":80,"x":-5.35,"y":5.6},{"k":80,"x":-5.7,"y":7.3},{"k":80,"x":-5.25,"y":8},{"k":80,"x":-4.7,"y":9.9},
{"k":81,"x":-2.6,"y":-6},{"k":81,"x":-1.85,"y":-5.25},{"k":81,"x":0.3,"y":-5.15},{"k":81,"x":4.15,"y":-5.25},{"k":81,"x":7.05,"y":-5.6},{"k":81,"x":7.65,"y":-6.45},{"k":81,"x":8.5,"y":-8.15},{"k":81,"x":8.25,"y":-10.05},{"k":81,"x":6.8,"y":-11.3},{"k":81,"x":3.9,"y":-11.15},{"k":81,"x":2,"y":-10.45},{"k":81,"x":1.4,"y":-9.6},{"k":81,"x":0.8,"y":-8.4},{"k":81,"x":-1.6,"y":-7.55},{"k":81,"x":-2.45,"y":-6.35},{"k":81,"x":-2.6,"y":-6},
{"k":90,"x":-4,"y":8.5},{"k":90,"x":-3.05,"y":9.1},{"k":90,"x":-2.1,"y":8.5},{"k":90,"x":-1.15,"y":8.5},{"k":90,"x":0.05,"y":7},{"k":90,"x":-0.3,"y":6.05},{"k":90,"x":0.05,"y":5.95},{"k":90,"x":-0.4,"y":4.85},{"k":90,"x":-1.6,"y":4.4},{"k":90,"x":-2.6,"y":3.9},{"k":90,"x":-3.4,"y":3.2},{"k":90,"x":-4.6,"y":3.9},{"k":90,"x":-4.25,"y":4.75},{"k":90,"x":-4,"y":5.85},{"k":90,"x":-4.5,"y":6.55},{"k":90,"x":-4.25,"y":7.75},{"k":90,"x":-4,"y":8.5},
{"k":91,"x":-1.5,"y":9.2},{"k":91,"x":-0.15,"y":8.85},{"k":91,"x":0.2,"y":8.1},{"k":91,"x":-0.15,"y":7.9},{"k":91,"x":-0.9,"y":8.5},{"k":91,"x":-1.5,"y":9.2},
{"k":92,"x":1.05,"y":-6.45},{"k":92,"x":2.25,"y":-6.1},{"k":92,"x":3.3,"y":-6},{"k":92,"x":4.65,"y":-6},{"k":92,"x":5.85,"y":-6.7},{"k":92,"x":5.6,"y":-7.55},{"k":92,"x":6.1,"y":-8.15},{"k":92,"x":7.05,"y":-7.8},{"k":92,"x":7.3,"y":-8.15},{"k":92,"x":6.35,"y":-8.85},{"k":92,"x":6.7,"y":-9.6},{"k":92,"x":5.85,"y":-9.95},{"k":92,"x":3.9,"y":-10.3},{"k":92,"x":2.95,"y":-9.6},{"k":92,"x":2.7,"y":-8.6},{"k":92,"x":1.3,"y":-7.65},{"k":92,"x":2,"y":-7.4},{"k":92,"x":1.05,"y":-6.45},
{"k":93,"x":0.3,"y":-6.1},{"k":93,"x":0.65,"y":-5.6},{"k":93,"x":0.9,"y":-6.45},{"k":93,"x":0.55,"y":-7.2},{"k":93,"x":0.05,"y":-6.7},{"k":93,"x":0.3,"y":-6.1},
{"k":94,"x":5.85,"y":-10.05},{"k":94,"x":6.7,"y":-10.2},{"k":94,"x":6.7,"y":-10.7},{"k":94,"x":6.1,"y":-10.8},{"k":94,"x":5.85,"y":-10.05}
],
"p2c":[{"k":10,"x":3,"y":-1.3},{"k":10,"x":10.15,"y":-1.3},{"k":10,"x":11.2,"y":-11.6},{"k":10,"x":0.9,"y":-2.35},{"k":10,"x":1.3,"y":13.6},{"k":10,"x":-6.5,"y":2.75},{"k":90,"x":-0.4,"y":-6.45},{"k":90,"x":2.35,"y":-9.6},{"k":90,"x":-2.15,"y":10},{"k":90,"x":2.6,"y":9.65},{"k":90,"x":-5.45,"y":8.6},{"k":90,"x":0.55,"y":7.55},{"k":90,"x":-0.2,"y":9.6}],
"p3g":[{"x":-6.35,"y":11.85},{"x":-5.25,"y":12.15},{"x":-2.6,"y":12.15},{"x":-2.6,"y":12.6},{"x":-1.5,"y":12.6},{"x":-1.25,"y":12.15},{"x":3.5,"y":12.15},{"x":3.5,"y":11.85},{"x":5,"y":11.85},{"x":5.6,"y":10.15},{"x":5.95,"y":10.15},{"x":5.95,"y":8.2},{"x":5,"y":8.1},{"x":3.9,"y":6.3},{"x":3.9,"y":4},{"x":2.9,"y":3.55},{"x":2.15,"y":2.7},{"x":1.55,"y":2},{"x":1.55,"y":1},{"x":1.9,"y":0.05},{"x":1.8,"y":-0.8},{"x":0.85,"y":-0.9},{"x":0.45,"y":-1.4},{"x":0.7,"y":-2.35},{"x":1.7,"y":-3.2},{"x":2.9,"y":-2.85},{"x":3.85,"y":-3.2},{"x":5.6,"y":-3.45},{"x":8,"y":-3.55},{"x":8.25,"y":-3.95},{"x":10.45,"y":-4.15},{"x":10.8,"y":-5.5},{"x":11.05,"y":-7.55},{"x":11.8,"y":-7.65},{"x":11.8,"y":-8.6},{"x":11.45,"y":-9.35},{"x":11.4,"y":-11.4},{"x":10.45,"y":-12},{"x":7.05,"y":-12.35},{"x":6.9,"y":-12.7},{"x":1.2,"y":-12.7},{"x":-0.15,"y":-12.35},{"x":-1.25,"y":-11.75},{"x":-1.6,"y":-10.4},{"x":-1.75,"y":-9.95},{"x":-2.95,"y":-9.45},{"x":-3.9,"y":-8.6},{"x":-5,"y":-8.25},{"x":-5.25,"y":-6.95},{"x":-5,"y":-6.6},{"x":-6.1,"y":-5.35},{"x":-7.1,"y":-4.65},{"x":-8.05,"y":-3.2},{"x":-8.05,"y":-2.1},{"x":-8.4,"y":-1.15},{"x":-8.8,"y":-0.45},{"x":-8.8,"y":0.15},{"x":-8.4,"y":0.75},{"x":-8.2,"y":3.2},{"x":-8.05,"y":4.15},{"x":-8.8,"y":4.15},{"x":-8.4,"y":5.6},{"x":-8.4,"y":7.3},{"x":-8.8,"y":8},{"x":-8.8,"y":8.5},{"x":-8.2,"y":9.7},{"x":-7.8,"y":10.55},{"x":-7.1,"y":11.5},{"x":-6.35,"y":11.85}],
"p3gc":[{"x":10.2,"y":-1.3},{"x":3,"y":-1.3},{"x":11.25,"y":-11.6}],
"p3r":[{"x":-5,"y":-2.6},{"x":-4.55,"y":-2.5},{"x":-4.2,"y":-3.3},{"x":-2.95,"y":-3.95},{"x":-2,"y":-4.55},{"x":-1.25,"y":-4.9},{"x":-0.9,"y":-5.85},{"x":-1,"y":-6.7},{"x":-1.75,"y":-7.55},{"x":-2.95,"y":-8.15},{"x":-3.2,"y":-8.25},{"x":-4.3,"y":-8},{"x":-3.9,"y":-6.45},{"x":-3.55,"y":-5.6},{"x":-4.3,"y":-5.5},{"x":-3.9,"y":-4.5},{"x":-4.15,"y":-3.95},{"x":-5,"y":-3.3},{"x":-5,"y":-2.6}],
"p3w":[{"x":-3.8,"y":11},{"x":-2.85,"y":11.35},{"x":-4.3,"y":10.3},{"x":-4.3,"y":10},{"x":-3.9,"y":9.7},{"x":-4.3,"y":9.3},{"x":-4.55,"y":8.95},{"x":-4.55,"y":8.7},{"x":-1.5,"y":9},{"x":-1.1,"y":9.3},{"x":-0.65,"y":9.3},{"x":-2.7,"y":8.7},{"x":-2.35,"y":8.7},{"x":-2,"y":8.7},{"x":-3.55,"y":8.3},{"x":-2.85,"y":8.3},{"x":-2,"y":8.3},{"x":-1.1,"y":8.3},{"x":-1.5,"y":7.95},{"x":-1.1,"y":7.95},{"x":1.9,"y":8.3},{"x":1.6,"y":7.95},{"x":0.95,"y":7.95},{"x":0.25,"y":7.95},{"x":0.25,"y":7.6},{"x":2.3,"y":7.6},{"x":-5.5,"y":7.6},{"x":-4.55,"y":7.3},{"x":-2.85,"y":7.6},{"x":-2.45,"y":7.6},{"x":-2,"y":7.6},{"x":-2.45,"y":7.3},{"x":-2.85,"y":6.9},{"x":-3.2,"y":6.6},{"x":1.3,"y":7.3},{"x":1.3,"y":6.9},{"x":-0.75,"y":6.9},{"x":-0.4,"y":6.9},{"x":0,"y":6.6},{"x":1.9,"y":6.6},{"x":-6.85,"y":6.6},{"x":-6.55,"y":6.6},{"x":-2.85,"y":6.25},{"x":-2.45,"y":6.25},{"x":-2.1,"y":6.25},{"x":-2.45,"y":5.9},{"x":-0.75,"y":6.25},{"x":0.6,"y":6.25},{"x":0.35,"y":5.9},{"x":-0.4,"y":5.9},{"x":-1.1,"y":5.6},{"x":-1.5,"y":5.25},{"x":-0.75,"y":5.25},{"x":-0.4,"y":5.25},{"x":-2.45,"y":5.6},{"x":-4.8,"y":5.9},{"x":-4.65,"y":5.25},{"x":0.6,"y":5.25},{"x":0.95,"y":5.25},{"x":-2.45,"y":5.25},{"x":-4.9,"y":4.15},{"x":-4.55,"y":4.5},{"x":-4.15,"y":4.5},{"x":-4.65,"y":3.85},{"x":-4.15,"y":3.85},{"x":-3.55,"y":4.5},{"x":-3.2,"y":4.5},{"x":-3.2,"y":4.15},{"x":-3.2,"y":3.85},{"x":-2.45,"y":4.2},{"x":-2.1,"y":4.2},{"x":-1.75,"y":4.5},{"x":-1.5,"y":4.15},{"x":-1.1,"y":3.85},{"x":-0.75,"y":3.85},{"x":-0.4,"y":3.85},{"x":0,"y":3.85},{"x":-1.5,"y":3.5},{"x":-0.75,"y":3.5},{"x":-2.1,"y":2.8},{"x":-1.5,"y":2.8},{"x":-1.1,"y":2.8},{"x":-1.1,"y":3.2},{"x":-4.15,"y":2.45},{"x":-4.15,"y":2.1},{"x":-4.15,"y":1.75},{"x":-4.15,"y":1.45},{"x":-4.55,"y":1.1},{"x":-4.8,"y":0.75},{"x":-4.15,"y":0.75},{"x":-3.2,"y":1.45},{"x":-3.55,"y":1.1},{"x":-3.55,"y":0.75},{"x":-0.75,"y":2.1},{"x":-0.4,"y":1.75},{"x":-6.25,"y":2.45},{"x":-6.25,"y":1.75},{"x":-4.55,"y":-0.65},{"x":-4.15,"y":-0.65},{"x":-4.55,"y":-0.95},{"x":-5.9,"y":-1.3},{"x":-7.65,"y":-1.65},{"x":-6.9,"y":-1.65},{"x":-0.15,"y":-2},{"x":0.6,"y":-2},{"x":0.6,"y":-2.35},{"x":0.95,"y":-2.35},{"x":-2.15,"y":-2.65},{"x":-1.5,"y":-2.3},{"x":0.25,"y":-4.4},{"x":0.6,"y":-4.4},{"x":1.3,"y":-3.75},{"x":2.35,"y":-4.75},{"x":3.4,"y":-5.15},{"x":4.35,"y":-4.75},{"x":4.35,"y":-5.15},{"x":4.35,"y":-5.45},{"x":5.1,"y":-5.15},{"x":6.1,"y":-5.15},{"x":1.7,"y":-5.45},{"x":2.35,"y":-5.45},{"x":2.05,"y":-5.8},{"x":3,"y":-6.1},{"x":2.4,"y":-6.1},{"x":4.1,"y":-6.1},{"x":5.1,"y":-5.8},{"x":5.45,"y":-5.8},{"x":5.1,"y":-6.45},{"x":5.45,"y":-6.45},{"x":5.8,"y":-6.1},{"x":2.75,"y":-6.45},{"x":0.95,"y":-6.45},{"x":0.95,"y":-6.8},{"x":1.3,"y":-7.15},{"x":1.7,"y":-7.15},{"x":2.05,"y":-7.15},{"x":0.95,"y":-7.5},{"x":0.6,"y":-7.85},{"x":0.95,"y":-7.85},{"x":1.3,"y":-7.85},{"x":2.4,"y":-6.8},{"x":3,"y":-6.8},{"x":3.75,"y":-6.8},{"x":3.75,"y":-7.15},{"x":3.75,"y":-7.5},{"x":3.75,"y":-7.85},{"x":3.4,"y":-7.5},{"x":2.65,"y":-7.5},{"x":4.7,"y":-7.15},{"x":6.45,"y":-6.45},{"x":6.45,"y":-6.8},{"x":6.1,"y":-7.15},{"x":6.8,"y":-7.15},{"x":6.45,"y":-7.5},{"x":6.8,"y":-7.5},{"x":7.45,"y":-6.45},{"x":7.1,"y":-7.85},{"x":8.5,"y":-7.5},{"x":8.15,"y":-7.85},{"x":7.8,"y":-8.15},{"x":7.45,"y":-8.5},{"x":7.8,"y":-8.5},{"x":8.2,"y":-8.5},{"x":8.5,"y":-8.85},{"x":10.2,"y":-8.15},{"x":0.6,"y":-8.15},{"x":0.6,"y":-8.5},{"x":0.6,"y":-8.85},{"x":1.3,"y":-8.15},{"x":1.7,"y":-8.15},{"x":2.05,"y":-8.15},{"x":2.4,"y":-8.15},{"x":2.8,"y":-8.5},{"x":2.4,"y":-8.5},{"x":1.7,"y":-8.5},{"x":3.75,"y":-8.5},{"x":3.75,"y":-8.85},{"x":0.6,"y":-9.25},{"x":0.95,"y":-9.25},{"x":0.6,"y":-9.6},{"x":1.7,"y":-9.25},{"x":2.05,"y":-9.25},{"x":2.65,"y":-9.25},{"x":3,"y":-9.25},{"x":3.4,"y":-9.25},{"x":3.75,"y":-9.25},{"x":4.35,"y":-9.25},{"x":4.7,"y":-8.85},{"x":5.45,"y":-8.85},{"x":5.1,"y":-9.25},{"x":5.45,"y":-9.25},{"x":5.8,"y":-9.25},{"x":5.8,"y":-9.6},{"x":2.65,"y":-9.6},{"x":4.1,"y":-9.6},{"x":4.1,"y":-9.95},{"x":7.45,"y":-9.25},{"x":7.1,"y":-9.6},{"x":8.85,"y":-9.6},{"x":3,"y":-11.6},{"x":3.75,"y":-11.6},{"x":6.45,"y":-11.95},{"x":2.4,"y":-11.3}],
"p3c":[{"x":-5.4,"y":11.65},{"x":-4.05,"y":12.05},{"x":-3,"y":12.05},{"x":-1.85,"y":12.05},{"x":-0.95,"y":12.05},{"x":0.2,"y":12.05},{"x":2.75,"y":11.9},{"x":3.75,"y":11.7},{"x":4.7,"y":10.95},{"x":5.1,"y":10.65},{"x":-6.9,"y":10.95},{"x":-6.6,"y":11.25},{"x":-7.45,"y":9.8},{"x":-2.1,"y":10.3},{"x":-0.1,"y":11},{"x":1.3,"y":10.15},{"x":2.9,"y":10.15},{"x":3.4,"y":9.3},{"x":4.4,"y":10.35},{"x":5.6,"y":9.65},{"x":5.4,"y":9},{"x":-0.2,"y":9.65},{"x":-5.55,"y":8.65},{"x":4.4,"y":8.3},{"x":-8.3,"y":8.3},{"x":-7.65,"y":7.6},{"x":-8.3,"y":7.2},{"x":0.65,"y":7.6},{"x":4.05,"y":7.25},{"x":-7.65,"y":5.35},{"x":3,"y":5.5},{"x":-8.7,"y":4.2},{"x":-8.3,"y":4.5},{"x":-6.9,"y":4},{"x":-8,"y":3.45},{"x":-2.1,"y":3.85},{"x":2.4,"y":4.15},{"x":2.75,"y":3.9},{"x":3.75,"y":4.4},{"x":1.7,"y":3.45},{"x":-6.5,"y":2.8},{"x":-6.25,"y":3.2},{"x":0.65,"y":2},{"x":-8,"y":1.75},{"x":-8.3,"y":1.05},{"x":-7.25,"y":0.7},{"x":-8.65,"y":-0.05},{"x":-7.45,"y":0.05},{"x":0.6,"y":0.1},{"x":1.4,"y":0.1},{"x":0.95,"y":-0.6},{"x":1.65,"y":-0.65},{"x":-1.8,"y":-1.65},{"x":-0.7,"y":-1.65},{"x":-1.5,"y":-2.65},{"x":-0.55,"y":-3.05},{"x":3,"y":-3.05},{"x":3.4,"y":-3.4},{"x":-3.2,"y":-3.05},{"x":-8,"y":-3.05},{"x":-6.6,"y":-3.95},{"x":3.75,"y":-4.05},{"x":4.4,"y":-4.05},{"x":4.05,"y":-4.4},{"x":6.6,"y":-3.75},{"x":7.8,"y":-3.9},{"x":8.7,"y":-4.4},{"x":10.4,"y":-4.75},{"x":-5.55,"y":-5.75},{"x":10.55,"y":-6.15},{"x":0.65,"y":-5.8},{"x":-0.4,"y":-6.45},{"x":-4.5,"y":-6.45},{"x":-4.8,"y":-7},{"x":-4.3,"y":-7.15},{"x":10.2,"y":-7.15},{"x":11.3,"y":-8.25},{"x":-3.8,"y":-8.55},{"x":-3.2,"y":-8.85},{"x":-2,"y":-8.85},{"x":-1,"y":-9.4},{"x":5.4,"y":-8.55},{"x":10.2,"y":-9},{"x":-1.75,"y":-9.95},{"x":11.2,"y":-9.9},{"x":6.4,"y":-10.4},{"x":-0.7,"y":-10.6},{"x":10.9,"y":-10.75},{"x":-0.4,"y":-11.3},{"x":9.25,"y":-11.6},{"x":9.85,"y":-11.9},{"x":-0.25,"y":-11.95},{"x":0.25,"y":-12.1},{"x":1.55,"y":-11.95},{"x":2.05,"y":-11.95},{"x":2.55,"y":-12.25},{"x":4.8,"y":-12.2},{"x":5.2,"y":-12.2},{"x":5.45,"y":-11.65},{"x":8,"y":-12.3},{"x":9,"y":-12.3},{"x":4.8,"y":-12.6}]
},
"hconcat":[
{"width":917,"height":935,
"layer":[{"layer":[
{"data":{"name":"p1"},"mark":{"type":"line","strokeWidth":2.5,"interpolate":"catmull-rom"},"encoding":{"x":{"field":"x","type":"quantitative","scale":{"domain":[-15.43,12.93],"range":[0,865],"nice":false,"zero":false},"axis":{"orient":"bottom","values":[-15,-10,-5,0,5,10],"grid":true,"tickSize":-30,"labelPadding":41,"title":"X coor (mm)","titleX":876,"titleY":106,"titleAlign":"right","titleBaseline":"alphabetic"}},"y":{"field":"y","type":"quantitative","scale":{"domain":[-14.27,14],"range":[935,0],"nice":false,"zero":false},"axis":{"orient":"left","values":[-10,-5,0,5,10],"grid":true,"tickSize":-30,"labelPadding":39,"title":"Y coor (mm)","titleX":-78,"titleY":0,"titleAlign":"right","titleBaseline":"alphabetic"}},"fill":{"field":"k","type":"ordinal","legend":null,"scale":{"domain":[10,20,30,40,50,51,60,61,70,71,72,80,81,90,91,92,93,94],"range":["#0044ff","#00b4ff","#00ffc4","#00ff50","#1eff00","#1eff00","#98ff00","#98ff00","#ffec00","#ffec00","#ffec00","#ff7400","#ff7400","#ff0000","#ff0000","#ff0000","#ff0000","#ff0000"]}},"stroke":{"condition":{"test":"datum.k==10","value":"#0044ff"},"value":"#10108c"},"order":{"value":null}}},
{"data":{"name":"frame"},"mark":{"type":"rect","fill":null,"stroke":"black","strokeWidth":6},"encoding":{"x":{"field":"x","type":"quantitative","scale":{"domain":[-15.43,12.93],"range":[0,865],"nice":false,"zero":false},"axis":null},"x2":{"field":"x2"},"y":{"field":"y","type":"quantitative","scale":{"domain":[-14.27,14],"range":[935,0],"nice":false,"zero":false},"axis":null},"y2":{"field":"y2"}}},
{"data":{"values":[{"x":-1.2,"y":16.03,"t":"GEMpix: Vgem = 665 V"}]},"mark":{"type":"text","font":"Liberation Sans","fontSize":51,"color":"#111","baseline":"alphabetic"},"encoding":{"x":{"field":"x","type":"quantitative","scale":{"domain":[-15.43,12.93],"range":[0,865],"nice":false,"zero":false},"axis":null},"y":{"field":"y","type":"quantitative","scale":{"domain":[-14.27,14],"range":[935,0],"nice":false,"zero":false},"axis":null},"text":{"field":"t"}}},
{"data":{"name":"one"},"mark":{"type":"point","opacity":0},"encoding":{"x":{"field":"x","type":"quantitative","scale":{"domain":[-15.43,12.93],"range":[0,865],"nice":false,"zero":false},"axis":{"orient":"bottom","values":[-14,-13,-12,-11,-9,-8,-7,-6,-4,-3,-2,-1,1,2,3,4,6,7,8,9,11,12],"tickSize":-14,"labels":false,"domain":false,"grid":false,"title":null}},"y":{"field":"y","type":"quantitative","scale":{"domain":[-14.27,14],"range":[935,0],"nice":false,"zero":false},"axis":{"orient":"left","values":[-14,-13,-12,-11,-9,-8,-7,-6,-4,-3,-2,-1,1,2,3,4,6,7,8,9,11,12,13],"tickSize":-14,"labels":false,"domain":false,"grid":false,"title":null}}}}
],"resolve":{"axis":{"x":"independent","y":"independent"}}},
{"data":{"name":"bar"},"mark":"rect","encoding":{"x":{"datum":12.97,"type":"quantitative","scale":{"domain":[-15.43,12.93],"range":[0,865],"nice":false,"zero":false},"axis":null},"x2":{"datum":14.64},"y":{"field":"b","type":"quantitative","scale":{"domain":[0,100],"nice":false},"axis":{"orient":"right","values":[0,10,20,30,40,50,60,70,80,90,100],"tickSize":-30,"labelPadding":35,"title":null,"grid":false,"zindex":1,"labelFontSize":33}},"y2":{"field":"b2"},"fill":{"field":"b","type":"ordinal","legend":null,"scale":{"domain":[0,10,20,30,40,50,60,70,80,90],"range":["#3000ff","#0044ff","#00b4ff","#00ffc4","#00ff50","#1eff00","#98ff00","#ffec00","#ff7400","#ff0000"]}}}}
],"resolve":{"scale":{"y":"independent","fill":"independent"},"axis":{"y":"independent","x":"independent"}}},
{"width":923,"height":935,
"layer":[{"layer":[
{"data":{"name":"p2"},"mark":{"type":"line","strokeWidth":2.5,"interpolate":"catmull-rom"},"encoding":{"x":{"field":"x","type":"quantitative","scale":{"domain":[-14.24,14],"range":[2,872],"nice":false,"zero":false},"axis":{"orient":"bottom","values":[-10,-5,0,5,10],"grid":true,"tickSize":-30,"labelPadding":41,"title":"X coor (mm)","titleX":876,"titleY":106,"titleAlign":"right","titleBaseline":"alphabetic"}},"y":{"field":"y","type":"quantitative","scale":{"domain":[-14.6,13.95],"range":[935,0],"nice":false,"zero":false},"axis":{"orient":"left","values":[-10,-5,0,5,10],"grid":true,"tickSize":-30,"labelPadding":39,"title":"Y coor (mm)","titleX":-73,"titleY":0,"titleAlign":"right","titleBaseline":"alphabetic"}},"fill":{"field":"k","type":"ordinal","legend":null,"scale":{"domain":[10,20,30,40,50,51,60,61,70,71,72,80,81,90,91,92,93,94],"range":["#0044ff","#00b4ff","#00ffc4","#00ff50","#1eff00","#1eff00","#98ff00","#98ff00","#ffec00","#ffec00","#ffec00","#ff7400","#ff7400","#ff0000","#ff0000","#ff0000","#ff0000","#ff0000"]}},"stroke":{"condition":{"test":"datum.k==10","value":"#0044ff"},"value":"#10108c"},"order":{"value":null}}},
{"data":{"name":"p2c"},"mark":{"type":"rect","width":10.5,"height":11,"stroke":"#10108c","strokeWidth":1.5},"encoding":{"x":{"field":"x","type":"quantitative","scale":{"domain":[-14.24,14],"range":[2,872],"nice":false,"zero":false},"axis":null},"y":{"field":"y","type":"quantitative","scale":{"domain":[-14.6,13.95],"range":[935,0],"nice":false,"zero":false},"axis":null},"fill":{"field":"k","type":"ordinal","legend":null,"scale":{"domain":[10,90],"range":["#0044ff","#ff0000"]}}}},
{"data":{"values":[{"x":0.01,"y":16,"t":"GAFchromic film"}]},"mark":{"type":"text","font":"Liberation Sans","fontSize":48,"color":"#111","baseline":"alphabetic"},"encoding":{"x":{"field":"x","type":"quantitative","scale":{"domain":[-14.24,14],"range":[2,872],"nice":false,"zero":false},"axis":null},"y":{"field":"y","type":"quantitative","scale":{"domain":[-14.6,13.95],"range":[935,0],"nice":false,"zero":false},"axis":null},"text":{"field":"t"}}},
{"data":{"name":"one"},"mark":{"type":"point","opacity":0},"encoding":{"x":{"field":"x","type":"quantitative","scale":{"domain":[-14.24,14],"range":[2,872],"nice":false,"zero":false},"axis":{"orient":"bottom","values":[-14,-13,-12,-11,-9,-8,-7,-6,-4,-3,-2,-1,1,2,3,4,6,7,8,9,11,12,13,14],"tickSize":-14,"labels":false,"domain":false,"grid":false,"title":null}},"y":{"field":"y","type":"quantitative","scale":{"domain":[-14.6,13.95],"range":[935,0],"nice":false,"zero":false},"axis":{"orient":"left","values":[-14,-13,-12,-11,-9,-8,-7,-6,-4,-3,-2,-1,1,2,3,4,6,7,8,9,11,12,13],"tickSize":-14,"labels":false,"domain":false,"grid":false,"title":null}}}}
],"resolve":{"axis":{"x":"independent","y":"independent"},"scale":{"fill":"independent"}}},
{"data":{"name":"bar"},"mark":"rect","encoding":{"x":{"datum":14.04,"type":"quantitative","scale":{"domain":[-14.24,14],"range":[2,872],"nice":false,"zero":false},"axis":null},"x2":{"datum":15.66},"y":{"field":"b","type":"quantitative","scale":{"domain":[0,100],"nice":false},"axis":{"orient":"right","values":[0,10,20,30,40,50,60,70,80,90,100],"tickSize":-30,"labelPadding":35,"title":null,"grid":false,"zindex":1,"labelFontSize":33}},"y2":{"field":"b2"},"fill":{"field":"b","type":"ordinal","legend":null,"scale":{"domain":[0,10,20,30,40,50,60,70,80,90],"range":["#3000ff","#0044ff","#00b4ff","#00ffc4","#00ff50","#1eff00","#98ff00","#ffec00","#ff7400","#ff0000"]}}}}
],"resolve":{"scale":{"y":"independent","fill":"independent"},"axis":{"y":"independent","x":"independent"}}},
{"width":928,"height":935,
"layer":[{"layer":[
{"data":{"name":"p3g"},"mark":{"type":"line","strokeWidth":1,"stroke":"#00ff50","fill":"#00ff50"},"encoding":{"x":{"field":"x","type":"quantitative","scale":{"domain":[-14.29,14.23],"range":[-2,874],"nice":false,"zero":false},"axis":{"orient":"bottom","values":[-10,-5,0,5,10],"grid":true,"tickSize":-30,"labelPadding":41,"title":"X coor (mm)","titleX":873,"titleY":106,"titleAlign":"right","titleBaseline":"alphabetic"}},"y":{"field":"y","type":"quantitative","scale":{"domain":[-14.6,13.95],"range":[935,0],"nice":false,"zero":false},"axis":{"orient":"left","values":[-10,-5,0,5,10],"grid":true,"tickSize":-30,"labelPadding":39,"title":"Y coor (mm)","titleX":-77,"titleY":0,"titleAlign":"right","titleBaseline":"alphabetic"}},"order":{"value":null}}},
{"data":{"name":"p3gc"},"mark":{"type":"rect","width":10.5,"height":11,"fill":"#00ff50"},"encoding":{"x":{"field":"x","type":"quantitative","scale":{"domain":[-14.29,14.23],"range":[-2,874],"nice":false,"zero":false},"axis":null},"y":{"field":"y","type":"quantitative","scale":{"domain":[-14.6,13.95],"range":[935,0],"nice":false,"zero":false},"axis":null}}},
{"data":{"name":"p3w"},"mark":{"type":"rect","width":10.5,"height":11,"fill":"white"},"encoding":{"x":{"field":"x","type":"quantitative","scale":{"domain":[-14.29,14.23],"range":[-2,874],"nice":false,"zero":false},"axis":null},"y":{"field":"y","type":"quantitative","scale":{"domain":[-14.6,13.95],"range":[935,0],"nice":false,"zero":false},"axis":null}}},
{"data":{"name":"p3c"},"mark":{"type":"rect","width":10.5,"height":11,"fill":"#ff0000"},"encoding":{"x":{"field":"x","type":"quantitative","scale":{"domain":[-14.29,14.23],"range":[-2,874],"nice":false,"zero":false},"axis":null},"y":{"field":"y","type":"quantitative","scale":{"domain":[-14.6,13.95],"range":[935,0],"nice":false,"zero":false},"axis":null}}},
{"data":{"name":"p3c"},"mark":{"type":"point","shape":"diamond","filled":true,"size":22,"fill":"#10108c","opacity":1},"encoding":{"x":{"field":"x","type":"quantitative","scale":{"domain":[-14.29,14.23],"range":[-2,874],"nice":false,"zero":false},"axis":null},"y":{"field":"y","type":"quantitative","scale":{"domain":[-14.6,13.95],"range":[935,0],"nice":false,"zero":false},"axis":null}}},
{"data":{"name":"p3r"},"mark":{"type":"line","strokeWidth":2.5,"stroke":"#10108c","fill":"#ff0000","interpolate":"catmull-rom"},"encoding":{"x":{"field":"x","type":"quantitative","scale":{"domain":[-14.29,14.23],"range":[-2,874],"nice":false,"zero":false},"axis":null},"y":{"field":"y","type":"quantitative","scale":{"domain":[-14.6,13.95],"range":[935,0],"nice":false,"zero":false},"axis":null},"order":{"value":null}}},
{"data":{"values":[{"x":0,"y":16,"t":"gamma index"}]},"mark":{"type":"text","font":"Liberation Sans","fontSize":51,"color":"#111","baseline":"alphabetic"},"encoding":{"x":{"field":"x","type":"quantitative","scale":{"domain":[-14.29,14.23],"range":[-2,874],"nice":false,"zero":false},"axis":null},"y":{"field":"y","type":"quantitative","scale":{"domain":[-14.6,13.95],"range":[935,0],"nice":false,"zero":false},"axis":null},"text":{"field":"t"}}},
{"data":{"name":"one"},"mark":{"type":"point","opacity":0},"encoding":{"x":{"field":"x","type":"quantitative","scale":{"domain":[-14.29,14.23],"range":[-2,874],"nice":false,"zero":false},"axis":{"orient":"bottom","values":[-14,-13,-12,-11,-9,-8,-7,-6,-4,-3,-2,-1,1,2,3,4,6,7,8,9,11,12,13,14],"tickSize":-14,"labels":false,"domain":false,"grid":false,"title":null}},"y":{"field":"y","type":"quantitative","scale":{"domain":[-14.6,13.95],"range":[935,0],"nice":false,"zero":false},"axis":{"orient":"left","values":[-14,-13,-12,-11,-9,-8,-7,-6,-4,-3,-2,-1,1,2,3,4,6,7,8,9,11,12,13],"tickSize":-14,"labels":false,"domain":false,"grid":false,"title":null}}}}
],"resolve":{"axis":{"x":"independent","y":"independent"}}},
{"data":{"name":"bar3"},"mark":"rect","encoding":{"x":{"datum":14.39,"type":"quantitative","scale":{"domain":[-14.29,14.23],"range":[-2,874],"nice":false,"zero":false},"axis":null},"x2":{"datum":15.98},"y":{"field":"b","type":"quantitative","scale":{"domain":[0,2],"nice":false},"axis":{"orient":"right","values":[0,0.2,0.4,0.6,0.8,1,1.2,1.4,1.6,1.8,2],"format":"~g","tickSize":-30,"labelPadding":35,"title":null,"grid":false,"zindex":1,"labelFontSize":33}},"y2":{"field":"b2"},"fill":{"field":"b","type":"ordinal","legend":null,"scale":{"domain":[0,1],"range":["#00ff50","#ff0000"]}}}}
],"resolve":{"scale":{"y":"independent","fill":"independent"},"axis":{"y":"independent","x":"independent"}}}
]}
